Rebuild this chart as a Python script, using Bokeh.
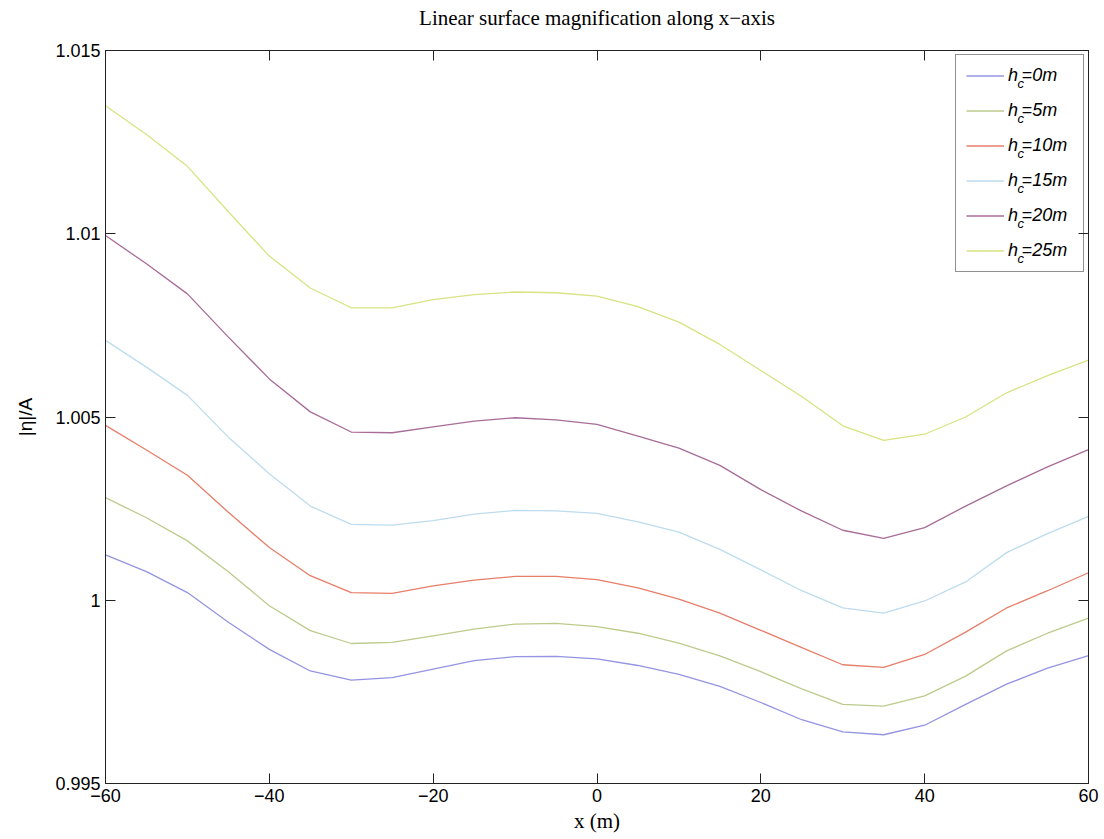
from bokeh.plotting import figure
from bokeh.models import (Range1d, LinearAxis, FixedTicker, PrintfTickFormatter,
                          Legend, LegendItem, Label)
from bokeh.embed import file_html
from bokeh.resources import INLINE

# ---------------- data ----------------
x_m = [-60, -55, -50, -45, -40, -35, -30, -25, -20, -15, -10, -5, 0,
       5, 10, 15, 20, 25, 30, 35, 40, 45, 50, 55, 60]

hc_values = ["0", "5", "10", "15", "20", "25"]

eta_hc0 = [1.00124, 1.00078, 1.00021, 0.99940, 0.99866, 0.99807, 0.99782, 0.99789,
           0.99812, 0.99835, 0.99846, 0.99847, 0.99840, 0.99822, 0.99798, 0.99765,
           0.99721, 0.99674, 0.99641, 0.99633, 0.99659, 0.99716, 0.99771, 0.99815, 0.99849]
eta_hc5 = [1.00280, 1.00225, 1.00162, 1.00078, 0.99985, 0.99917, 0.99882, 0.99885,
           0.99903, 0.99921, 0.99935, 0.99937, 0.99928, 0.99910, 0.99883, 0.99848,
           0.99805, 0.99758, 0.99716, 0.99711, 0.99739, 0.99793, 0.99862, 0.99910, 0.99951]
eta_hc10 = [1.00477, 1.00410, 1.00341, 1.00240, 1.00144, 1.00067, 1.00021, 1.00019,
            1.00039, 1.00055, 1.00065, 1.00065, 1.00056, 1.00034, 1.00003, 0.99965,
            0.99918, 0.99871, 0.99824, 0.99817, 0.99852, 0.99913, 0.99979, 1.00026, 1.00075]
eta_hc15 = [1.00709, 1.00636, 1.00559, 1.00445, 1.00345, 1.00257, 1.00207, 1.00205,
            1.00217, 1.00235, 1.00245, 1.00244, 1.00237, 1.00214, 1.00186, 1.00139,
            1.00083, 1.00026, 0.99979, 0.99965, 0.99998, 1.00050, 1.00130, 1.00182, 1.00229]
eta_hc20 = [1.00995, 1.00918, 1.00836, 1.00718, 1.00604, 1.00514, 1.00459, 1.00457,
            1.00473, 1.00489, 1.00498, 1.00492, 1.00480, 1.00448, 1.00415, 1.00368,
            1.00302, 1.00243, 1.00191, 1.00169, 1.00198, 1.00257, 1.00312, 1.00364, 1.00411]
eta_hc25 = [1.01349, 1.01271, 1.01184, 1.01060, 1.00939, 1.00852, 1.00798, 1.00798,
            1.00820, 1.00834, 1.00841, 1.00839, 1.00830, 1.00801, 1.00759, 1.00698,
            1.00627, 1.00556, 1.00476, 1.00436, 1.00453, 1.00500, 1.00566, 1.00613, 1.00655]

x_ticks = [-60, -40, -20, 0, 20, 40, 60]
x_tick_labels = ["\u221260", "\u221240", "\u221220", "0", "20", "40", "60"]
y_ticks = [0.995, 1.0, 1.005, 1.01, 1.015]

series = [eta_hc0, eta_hc5, eta_hc10, eta_hc15, eta_hc20, eta_hc25]
colors = ["#9494e2", "#bccb8c", "#e77e68", "#bddcee", "#a86c98", "#d8e382"]

X_LO, X_HI = -60, 60
Y_LO, Y_HI = 0.995, 1.015
W, H = 1104, 839
B_L, B_R, B_T, B_B = 105, 16, 50, 56

# ---------------- figure ----------------
p = figure(width=W, height=H, output_backend="svg", toolbar_location=None,
           x_range=Range1d(X_LO, X_HI), y_range=Range1d(Y_LO, Y_HI),
           min_border_left=B_L, min_border_right=B_R, min_border_top=B_T,
           min_border_bottom=B_B, background_fill_color="white",
           border_fill_color="white")
p.grid.visible = False
p.outline_line_color = "#222222"
p.outline_line_width = 1
p.title = None

xt = FixedTicker(ticks=x_ticks, minor_ticks=[])
yt = FixedTicker(ticks=y_ticks, minor_ticks=[])


def style_axis(ax, ticker):
    ax.ticker = ticker
    ax.major_tick_in = 10
    ax.major_tick_out = 0
    ax.minor_tick_in = 0
    ax.minor_tick_out = 0
    ax.axis_line_color = "#222222"
    ax.major_tick_line_color = "#222222"
    ax.major_label_text_font = "Liberation Sans"
    ax.major_label_text_font_size = "18px"
    ax.major_label_text_color = "black"


xa = p.xaxis[0]
style_axis(xa, xt)
xa.major_label_overrides = {t: l for t, l in zip(x_ticks, x_tick_labels)}
xa.major_label_standoff = 5
xa.axis_label = "x (m)"
xa.axis_label_text_font = "Liberation Serif"
xa.axis_label_text_font_size = "21px"
xa.axis_label_text_font_style = "normal"
xa.axis_label_text_color = "black"
xa.axis_label_standoff = 4

ya = p.yaxis[0]
style_axis(ya, yt)
ya.formatter = PrintfTickFormatter(format="%g")
ya.major_label_standoff = 5
ya.axis_label = "|\u03b7|/A"
ya.axis_label_text_font = "Liberation Sans"
ya.axis_label_text_font_size = "19px"
ya.axis_label_text_font_style = "normal"
ya.axis_label_text_color = "black"
ya.axis_label_standoff = 16

# top axis: inward ticks only, and it carries the chart title as its label
top_ax = LinearAxis()
style_axis(top_ax, xt)
top_ax.major_label_text_font_size = "0px"
top_ax.major_label_standoff = 0
top_ax.axis_label = "Linear surface magnification along x\u2212axis"
top_ax.axis_label_text_font = "Liberation Serif"
top_ax.axis_label_text_font_size = "21px"
top_ax.axis_label_text_font_style = "normal"
top_ax.axis_label_text_color = "black"
top_ax.axis_label_standoff = 21
p.add_layout(top_ax, "above")

right_ax = LinearAxis()
style_axis(right_ax, yt)
right_ax.major_label_text_font_size = "0px"
right_ax.major_label_standoff = 0
p.add_layout(right_ax, "right")

# ---------------- lines ----------------
items = []
for hc, ys, col in zip(hc_values, series, colors):
    r = p.line(x_m, ys, line_color=col, line_width=1.3)
    items.append(LegendItem(label="h\u2009=" + hc + "m", renderers=[r]))

LEG_MARGIN, LEG_PAD, LEG_SP, LEG_ROW = 4, 10, 14, 21
legend = Legend(items=items, location="top_right", margin=LEG_MARGIN, padding=LEG_PAD,
                spacing=LEG_SP, label_height=LEG_ROW, glyph_height=LEG_ROW, glyph_width=38,
                label_width=65, label_standoff=4,
                label_text_font="Liberation Sans", label_text_font_style="italic",
                label_text_font_size="18px", label_text_color="black",
                border_line_color="#222222", border_line_width=1,
                background_fill_alpha=0.0)
p.add_layout(legend)

# subscript "c" of h_c in the legend labels, placed from the legend geometry
frame_w = W - B_L - B_R
frame_h = H - B_T - B_B
sub_px_x = 912                         # px from frame left
for i in range(len(hc_values)):
    px_from_top = LEG_MARGIN + LEG_PAD + LEG_ROW / 2 + 8 + (LEG_ROW + LEG_SP) * i
    lx = X_LO + sub_px_x / frame_w * (X_HI - X_LO)
    ly = Y_HI - px_from_top / frame_h * (Y_HI - Y_LO)
    p.add_layout(Label(x=lx, y=ly, text="c", text_font="Liberation Sans",
                       text_font_style="italic", text_font_size="13px",
                       text_baseline="middle", text_align="left",
                       text_color="#000000"))

open("out.html", "w").write(file_html(p, INLINE))
